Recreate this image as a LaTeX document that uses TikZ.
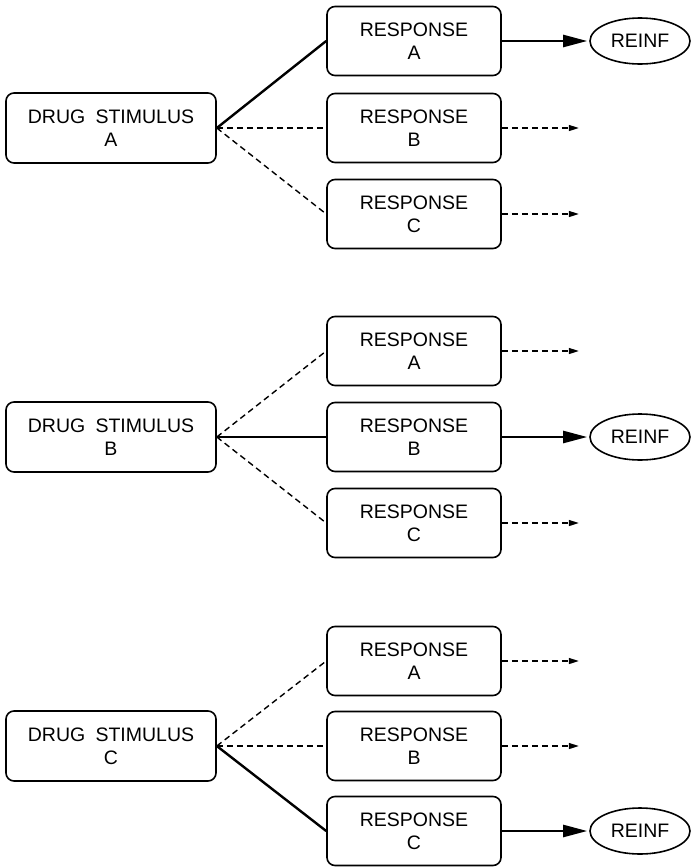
\documentclass[tikz,border=0pt]{standalone}
\usepackage{fontspec}
\setmainfont{Liberation Sans}
\usetikzlibrary{shapes,arrows.meta,positioning}
\tikzstyle{every picture}=[x=1pt, y=1pt, node distance=303pt, line join=round]
\tikzstyle{drug}=[draw, line width=1.6pt, rounded corners=8pt, minimum width=210pt,%
	minimum height=70pt, align=center, font=\fontsize{19.5}{23}\selectfont]
\tikzstyle{resp}=[drug, minimum width=174pt, minimum height=69pt]
\tikzstyle{reinf}=[draw, ellipse, line width=1.6pt, minimum width=100pt,%
	minimum height=46pt, inner sep=0pt, font=\fontsize{19.5}{23}\selectfont]
\tikzstyle{reinforced}=[line width=2.4pt]
\tikzstyle{extinct}=[line width=1.4pt, dash pattern=on 6pt off 4pt]
\tikzstyle{gets}=[reinforced, shorten >=2pt, -{Triangle[length=24pt,width=12pt]}]
\tikzstyle{nogets}=[extinct, -{Triangle[length=10pt,width=6pt]}]

\begin{document}
\begin{tikzpicture}
	\useasboundingbox (0,0) rectangle (692,-868);
	% stimulus A
	\node (S1) [drug] at (111,-128) {DRUG\hspace{0.25em} STIMULUS\\A};
	\node (R1b) [resp, right of=S1] {RESPONSE\\B};
	\node (R1a) [resp, above of=R1b, node distance=87pt] {RESPONSE\\A};
	\node (R1c) [resp, below of=R1b, node distance=86pt] {RESPONSE\\C};
	\node (F1) [reinf, right of=R1a, node distance=226pt] {REINF};
	\coordinate (E1b) at ([xshift=77pt]R1b.east);
	\coordinate (E1c) at ([xshift=77pt]R1c.east);
	\draw[reinforced] (S1.east) -- (R1a.west);
	\draw[extinct] (S1.east) -- (R1b.west);
	\draw[extinct] (S1.east) -- (R1c.west);
	\draw[gets] (R1a.east) -- (F1.west);
	\draw[nogets] (R1b.east) -- (E1b);
	\draw[nogets] (R1c.east) -- (E1c);
	% stimulus B
	\node (S2) [drug] at (111,-437) {DRUG\hspace{0.25em} STIMULUS\\B};
	\node (R2b) [resp, right of=S2] {RESPONSE\\B};
	\node (R2a) [resp, above of=R2b, node distance=86pt] {RESPONSE\\A};
	\node (R2c) [resp, below of=R2b, node distance=86pt] {RESPONSE\\C};
	\node (F2) [reinf, right of=R2b, node distance=226pt] {REINF};
	\coordinate (E2a) at ([xshift=77pt]R2a.east);
	\coordinate (E2c) at ([xshift=77pt]R2c.east);
	\draw[extinct] (S2.east) -- (R2a.west);
	\draw[reinforced] (S2.east) -- (R2b.west);
	\draw[extinct] (S2.east) -- (R2c.west);
	\draw[nogets] (R2a.east) -- (E2a);
	\draw[gets] (R2b.east) -- (F2.west);
	\draw[nogets] (R2c.east) -- (E2c);
	% stimulus C
	\node (S3) [drug] at (111,-746) {DRUG\hspace{0.25em} STIMULUS\\C};
	\node (R3b) [resp, right of=S3] {RESPONSE\\B};
	\node (R3a) [resp, above of=R3b, node distance=85pt] {RESPONSE\\A};
	\node (R3c) [resp, below of=R3b, node distance=85pt] {RESPONSE\\C};
	\node (F3) [reinf, right of=R3c, node distance=226pt] {REINF};
	\coordinate (E3a) at ([xshift=77pt]R3a.east);
	\coordinate (E3b) at ([xshift=77pt]R3b.east);
	\draw[extinct] (S3.east) -- (R3a.west);
	\draw[extinct] (S3.east) -- (R3b.west);
	\draw[reinforced] (S3.east) -- (R3c.west);
	\draw[nogets] (R3a.east) -- (E3a);
	\draw[nogets] (R3b.east) -- (E3b);
	\draw[gets] (R3c.east) -- (F3.west);
\end{tikzpicture}
\end{document}
